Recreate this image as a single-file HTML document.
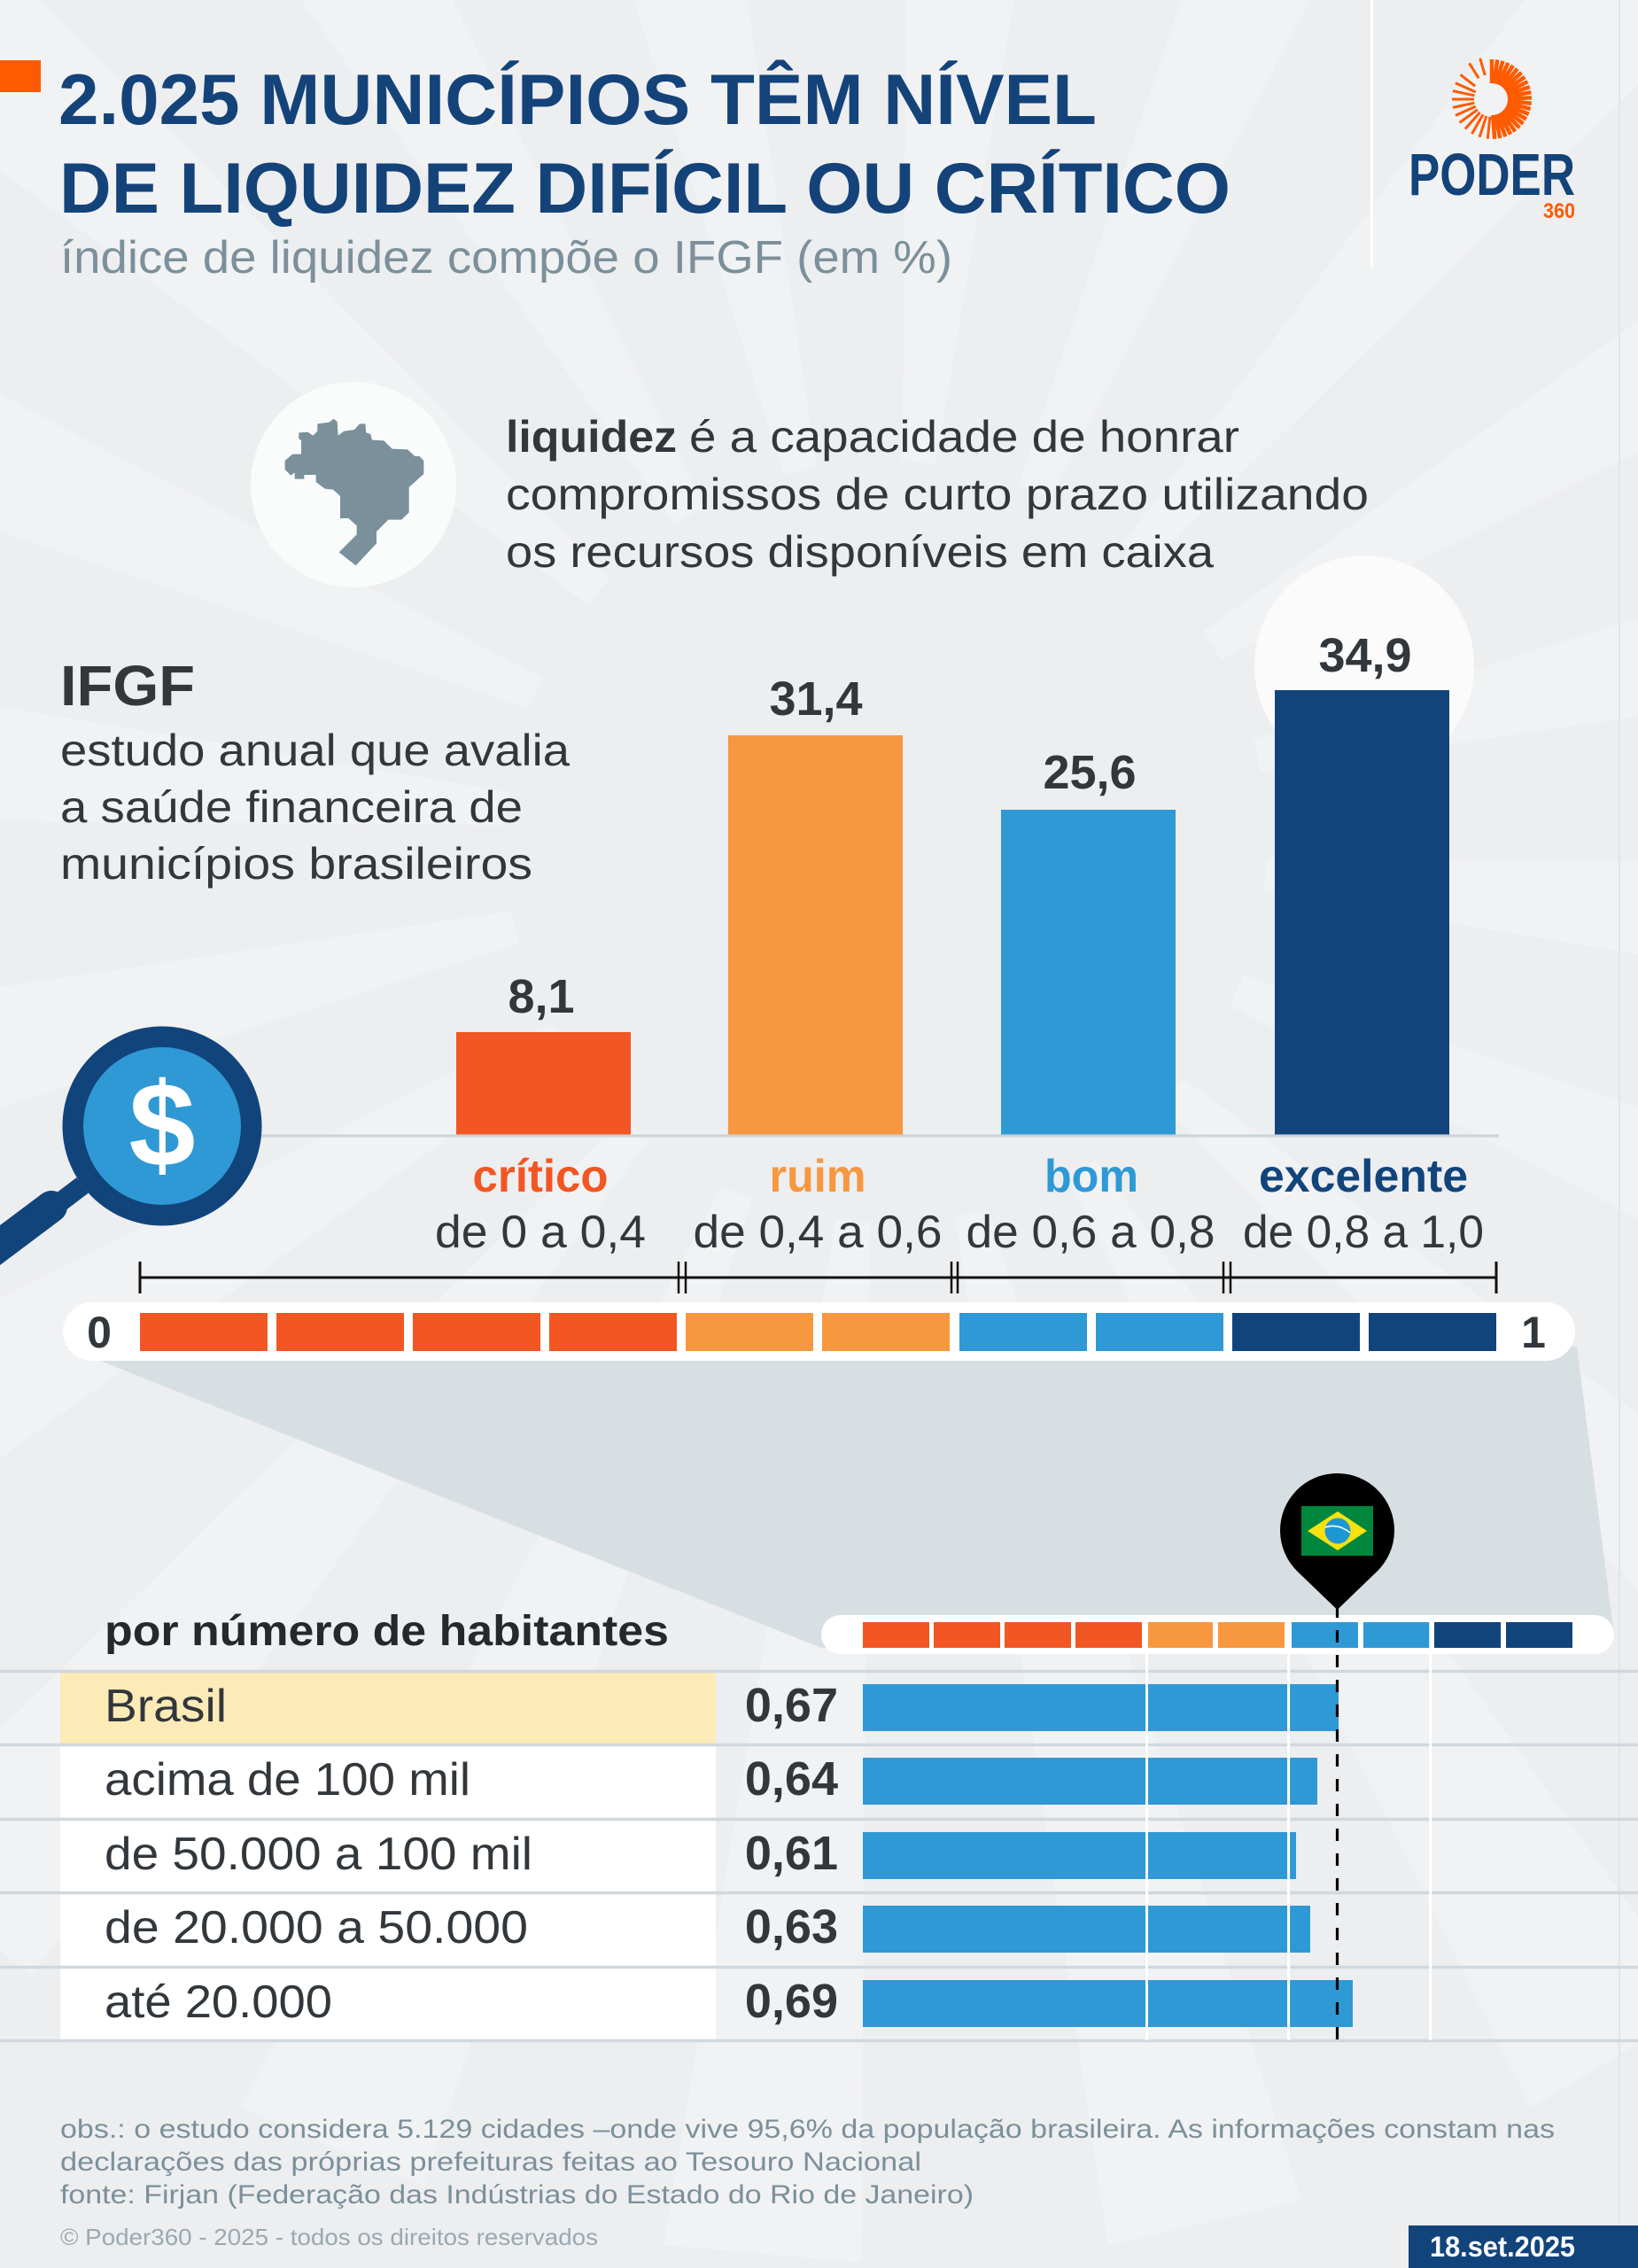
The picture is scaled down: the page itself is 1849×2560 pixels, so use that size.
<!DOCTYPE html>
<html lang="pt-BR">
<head>
<meta charset="utf-8">
<title>2.025 municípios têm nível de liquidez difícil ou crítico</title>
<style>
  html,body{margin:0;padding:0;background:#edeef0;}
  svg{display:block;}
  text{font-family:"Liberation Sans", Arial, sans-serif;}
</style>
</head>
<body>
<svg xmlns="http://www.w3.org/2000/svg" width="1849" height="2560" viewBox="0 0 1849 2560">
  <!-- background -->
  <rect x="0" y="0" width="1849" height="2560" fill="#edeef0"/>
  <!-- faint sunburst rays -->
  <g fill="#ffffff" opacity="0.24">
    <polygon points="1430,931 1430,969 2600,1062 2600,838" transform="rotate(5 1000 950)"/>
    <polygon points="1430,931 1430,969 2600,1062 2600,838" transform="rotate(23 1000 950)"/>
    <polygon points="1430,931 1430,969 2600,1062 2600,838" transform="rotate(41 1000 950)"/>
    <polygon points="1430,931 1430,969 2600,1062 2600,838" transform="rotate(59 1000 950)"/>
    <polygon points="1430,931 1430,969 2600,1062 2600,838" transform="rotate(77 1000 950)"/>
    <polygon points="1430,931 1430,969 2600,1062 2600,838" transform="rotate(95 1000 950)"/>
    <polygon points="1430,931 1430,969 2600,1062 2600,838" transform="rotate(113 1000 950)"/>
    <polygon points="1430,931 1430,969 2600,1062 2600,838" transform="rotate(131 1000 950)"/>
    <polygon points="1430,931 1430,969 2600,1062 2600,838" transform="rotate(149 1000 950)"/>
    <polygon points="1430,931 1430,969 2600,1062 2600,838" transform="rotate(167 1000 950)"/>
    <polygon points="1430,931 1430,969 2600,1062 2600,838" transform="rotate(185 1000 950)"/>
    <polygon points="1430,931 1430,969 2600,1062 2600,838" transform="rotate(203 1000 950)"/>
    <polygon points="1430,931 1430,969 2600,1062 2600,838" transform="rotate(221 1000 950)"/>
    <polygon points="1430,931 1430,969 2600,1062 2600,838" transform="rotate(239 1000 950)"/>
    <polygon points="1430,931 1430,969 2600,1062 2600,838" transform="rotate(257 1000 950)"/>
    <polygon points="1430,931 1430,969 2600,1062 2600,838" transform="rotate(275 1000 950)"/>
    <polygon points="1430,931 1430,969 2600,1062 2600,838" transform="rotate(293 1000 950)"/>
    <polygon points="1430,931 1430,969 2600,1062 2600,838" transform="rotate(311 1000 950)"/>
    <polygon points="1430,931 1430,969 2600,1062 2600,838" transform="rotate(329 1000 950)"/>
    <polygon points="1430,931 1430,969 2600,1062 2600,838" transform="rotate(347 1000 950)"/>
  </g>
  <!-- faint right line -->
  <rect x="1827" y="0" width="2" height="2560" fill="#e1e5e8"/>

  <!-- header -->
  <rect x="0" y="68" width="46" height="36" fill="#ff5a00"/>
  <text x="66" y="140" font-size="81" font-weight="bold" fill="#14437a" textLength="1172" lengthAdjust="spacingAndGlyphs">2.025 MUNICÍPIOS TÊM NÍVEL</text>
  <text x="67" y="240" font-size="81" font-weight="bold" fill="#14437a" textLength="1322" lengthAdjust="spacingAndGlyphs">DE LIQUIDEZ DIFÍCIL OU CRÍTICO</text>
  <text x="68" y="308" font-size="52" fill="#7b909a" textLength="1007" lengthAdjust="spacingAndGlyphs">índice de liquidez compõe o IFGF (em %)</text>

  <!-- separator -->
  <rect x="1547" y="0" width="3" height="302" fill="#ffffff"/>

  <!-- logo -->
  <g stroke="#ff5a00" stroke-linecap="butt">
    <g stroke-width="4.5">
      <line x1="1702" y1="112" x2="1729" y2="112" transform="rotate(-90 1684 112)"/>
      <line x1="1702" y1="112" x2="1729" y2="112" transform="rotate(-82 1684 112)"/>
      <line x1="1702" y1="112" x2="1729" y2="112" transform="rotate(-74 1684 112)"/>
      <line x1="1702" y1="112" x2="1729" y2="112" transform="rotate(-66 1684 112)"/>
      <line x1="1702" y1="112" x2="1729" y2="112" transform="rotate(-58 1684 112)"/>
      <line x1="1702" y1="112" x2="1729" y2="112" transform="rotate(-50 1684 112)"/>
      <line x1="1702" y1="112" x2="1729" y2="112" transform="rotate(-42 1684 112)"/>
      <line x1="1702" y1="112" x2="1729" y2="112" transform="rotate(-34 1684 112)"/>
      <line x1="1702" y1="112" x2="1729" y2="112" transform="rotate(-26 1684 112)"/>
      <line x1="1702" y1="112" x2="1729" y2="112" transform="rotate(-18 1684 112)"/>
      <line x1="1702" y1="112" x2="1729" y2="112" transform="rotate(-10 1684 112)"/>
      <line x1="1702" y1="112" x2="1729" y2="112" transform="rotate(-2 1684 112)"/>
      <line x1="1702" y1="112" x2="1729" y2="112" transform="rotate(6 1684 112)"/>
      <line x1="1702" y1="112" x2="1729" y2="112" transform="rotate(14 1684 112)"/>
      <line x1="1702" y1="112" x2="1729" y2="112" transform="rotate(22 1684 112)"/>
      <line x1="1702" y1="112" x2="1729" y2="112" transform="rotate(30 1684 112)"/>
      <line x1="1702" y1="112" x2="1729" y2="112" transform="rotate(38 1684 112)"/>
      <line x1="1702" y1="112" x2="1729" y2="112" transform="rotate(46 1684 112)"/>
      <line x1="1702" y1="112" x2="1729" y2="112" transform="rotate(54 1684 112)"/>
      <line x1="1702" y1="112" x2="1729" y2="112" transform="rotate(62 1684 112)"/>
      <line x1="1702" y1="112" x2="1729" y2="112" transform="rotate(70 1684 112)"/>
      <line x1="1702" y1="112" x2="1729" y2="112" transform="rotate(78 1684 112)"/>
      <line x1="1702" y1="112" x2="1729" y2="112" transform="rotate(86 1684 112)"/>
    </g>
    <g stroke-width="3">
      <line x1="1704" y1="112" x2="1729" y2="112" transform="rotate(96 1684 112)"/>
      <line x1="1704" y1="112" x2="1729" y2="112" transform="rotate(108 1684 112)"/>
      <line x1="1704" y1="112" x2="1729" y2="112" transform="rotate(120 1684 112)"/>
      <line x1="1704" y1="112" x2="1729" y2="112" transform="rotate(132 1684 112)"/>
      <line x1="1704" y1="112" x2="1729" y2="112" transform="rotate(144 1684 112)"/>
      <line x1="1704" y1="112" x2="1729" y2="112" transform="rotate(156 1684 112)"/>
      <line x1="1704" y1="112" x2="1729" y2="112" transform="rotate(168 1684 112)"/>
      <line x1="1704" y1="112" x2="1729" y2="112" transform="rotate(180 1684 112)"/>
      <line x1="1704" y1="112" x2="1729" y2="112" transform="rotate(192 1684 112)"/>
      <line x1="1704" y1="112" x2="1729" y2="112" transform="rotate(204 1684 112)"/>
      <line x1="1708" y1="112" x2="1729" y2="112" transform="rotate(218 1684 112)"/>
      <line x1="1712" y1="112" x2="1732" y2="112" transform="rotate(238 1684 112)"/>
      <line x1="1712" y1="112" x2="1732" y2="112" transform="rotate(254 1684 112)"/>
    </g>
  </g>
  <text x="1590" y="220" font-size="67" font-weight="bold" fill="#14437a" textLength="188" lengthAdjust="spacingAndGlyphs">PODER</text>
  <text x="1742" y="246" font-size="24" font-weight="bold" fill="#ff5a00" textLength="36" lengthAdjust="spacingAndGlyphs">360</text>

  <!-- info circle with Brazil map -->
  <circle cx="399" cy="547" r="116" fill="#fafbfb"/>
  <polygon fill="#7a909b" transform="translate(260 420) scale(0.33333)" points="232,205 262,203 280,215 295,200 295,175 335,170 350,158 362,168 365,215 385,200 420,195 438,175 457,175 460,205 475,210 480,230 520,232 548,260 600,262 625,285 640,285 655,300 655,345 605,390 605,475 580,500 535,500 495,540 495,580 425,655 368,610 428,550 428,520 400,495 372,495 372,420 348,398 320,395 290,372 290,348 250,348 250,362 218,362 218,340 205,350 185,330 185,300 210,278 240,278 240,232 232,225"/>

  <!-- liquidez definition -->
  <text x="571" y="510" font-size="50" font-weight="bold" fill="#32373c" textLength="193" lengthAdjust="spacingAndGlyphs">liquidez</text>
  <text x="778" y="510" font-size="50" fill="#32373c" textLength="621" lengthAdjust="spacingAndGlyphs">é a capacidade de honrar</text>
  <text x="571" y="575" font-size="50" fill="#32373c" textLength="974" lengthAdjust="spacingAndGlyphs">compromissos de curto prazo utilizando</text>
  <text x="571" y="640" font-size="50" fill="#32373c" textLength="799" lengthAdjust="spacingAndGlyphs">os recursos disponíveis em caixa</text>

  <!-- IFGF block -->
  <text x="68" y="796" font-size="64" font-weight="bold" fill="#32373c" textLength="152" lengthAdjust="spacingAndGlyphs">IFGF</text>
  <text x="68" y="864" font-size="50" fill="#32373c" textLength="575" lengthAdjust="spacingAndGlyphs">estudo anual que avalia</text>
  <text x="68" y="928" font-size="50" fill="#32373c" textLength="522" lengthAdjust="spacingAndGlyphs">a saúde financeira de</text>
  <text x="68" y="992" font-size="50" fill="#32373c" textLength="533" lengthAdjust="spacingAndGlyphs">municípios brasileiros</text>

  <!-- white circle behind 34,9 -->
  <circle cx="1540" cy="751" r="124" fill="#fbfbfc"/>

  <!-- bars -->
  <rect x="515" y="1165" width="197" height="116" fill="#f25623"/>
  <rect x="822" y="830" width="197" height="451" fill="#f7973f"/>
  <rect x="1130" y="914" width="197" height="367" fill="#2f99d5"/>
  <rect x="1439" y="779" width="197" height="502" fill="#12447c"/>
  <line x1="295" y1="1282" x2="1692" y2="1282" stroke="#c9d3d9" stroke-width="3"/>

  <!-- value labels -->
  <g font-size="54" font-weight="bold" fill="#32373c" text-anchor="middle">
    <text x="611" y="1143">8,1</text>
    <text x="921" y="807">31,4</text>
    <text x="1230" y="890">25,6</text>
    <text x="1541" y="758">34,9</text>
  </g>

  <!-- category labels -->
  <g font-size="52" font-weight="bold" text-anchor="middle">
    <text x="610" y="1345" fill="#f25623" textLength="153" lengthAdjust="spacingAndGlyphs">crítico</text>
    <text x="923" y="1345" fill="#f7973f" textLength="109" lengthAdjust="spacingAndGlyphs">ruim</text>
    <text x="1232" y="1345" fill="#2f99d5" textLength="106" lengthAdjust="spacingAndGlyphs">bom</text>
    <text x="1539" y="1345" fill="#12447c" textLength="236" lengthAdjust="spacingAndGlyphs">excelente</text>
  </g>
  <g font-size="52" fill="#32373c" text-anchor="middle">
    <text x="610" y="1408" textLength="238" lengthAdjust="spacingAndGlyphs">de 0 a 0,4</text>
    <text x="923" y="1408" textLength="281" lengthAdjust="spacingAndGlyphs">de 0,4 a 0,6</text>
    <text x="1231" y="1408" textLength="281" lengthAdjust="spacingAndGlyphs">de 0,6 a 0,8</text>
    <text x="1539" y="1408" textLength="272" lengthAdjust="spacingAndGlyphs">de 0,8 a 1,0</text>
  </g>

  <!-- magnifier -->
  <line x1="93" y1="1338" x2="60" y2="1363" stroke="#12447c" stroke-width="22"/>
  <line x1="58" y1="1362" x2="-30" y2="1428" stroke="#12447c" stroke-width="36" stroke-linecap="round"/>
  <circle cx="183" cy="1271" r="112.5" fill="#12447c"/>
  <circle cx="183" cy="1271" r="89" fill="#2f99d5"/>
  <text x="183" y="1316" font-size="135" font-weight="bold" fill="#ffffff" text-anchor="middle">$</text>

  <!-- bracket -->
  <g stroke="#111111">
    <line x1="158" y1="1442" x2="1689" y2="1442" stroke-width="3"/>
    <line x1="158" y1="1424" x2="158" y2="1460" stroke-width="3"/>
    <line x1="1689" y1="1424" x2="1689" y2="1460" stroke-width="3"/>
    <line x1="766" y1="1424" x2="766" y2="1460" stroke-width="2.5"/>
    <line x1="774" y1="1424" x2="774" y2="1460" stroke-width="2.5"/>
    <line x1="1074" y1="1424" x2="1074" y2="1460" stroke-width="2.5"/>
    <line x1="1081" y1="1424" x2="1081" y2="1460" stroke-width="2.5"/>
    <line x1="1381" y1="1424" x2="1381" y2="1460" stroke-width="2.5"/>
    <line x1="1389" y1="1424" x2="1389" y2="1460" stroke-width="2.5"/>
  </g>

  <!-- zoom shadow polygon -->
  <polygon points="73,1520 1780,1520 1822,1845 927,1860" fill="#d8dfe3"/>

  <!-- big scale pill -->
  <rect x="71" y="1470" width="1707" height="66" rx="33" fill="#ffffff"/>
  <rect x="158" y="1482" width="144" height="43" fill="#f25623"/>
  <rect x="312" y="1482" width="144" height="43" fill="#f25623"/>
  <rect x="466" y="1482" width="144" height="43" fill="#f25623"/>
  <rect x="620" y="1482" width="144" height="43" fill="#f25623"/>
  <rect x="774" y="1482" width="144" height="43" fill="#f7973f"/>
  <rect x="928" y="1482" width="144" height="43" fill="#f7973f"/>
  <rect x="1083" y="1482" width="144" height="43" fill="#2f99d5"/>
  <rect x="1237" y="1482" width="144" height="43" fill="#2f99d5"/>
  <rect x="1391" y="1482" width="144" height="43" fill="#12447c"/>
  <rect x="1545" y="1482" width="144" height="43" fill="#12447c"/>
  <text x="112" y="1521" font-size="50" font-weight="bold" fill="#32373c" text-anchor="middle">0</text>
  <text x="1731" y="1521" font-size="50" font-weight="bold" fill="#32373c" text-anchor="middle">1</text>

  <!-- small scale pill -->
  <rect x="927" y="1823" width="895" height="44" rx="22" fill="#ffffff"/>
  <rect x="974" y="1831" width="75" height="29" fill="#f25623"/>
  <rect x="1054" y="1831" width="75" height="29" fill="#f25623"/>
  <rect x="1134" y="1831" width="75" height="29" fill="#f25623"/>
  <rect x="1214" y="1831" width="75" height="29" fill="#f25623"/>
  <rect x="1294" y="1831" width="75" height="29" fill="#f7973f"/>
  <rect x="1375" y="1831" width="75" height="29" fill="#f7973f"/>
  <rect x="1458" y="1831" width="75" height="29" fill="#2f99d5"/>
  <rect x="1539" y="1831" width="75" height="29" fill="#2f99d5"/>
  <rect x="1619" y="1831" width="75" height="29" fill="#12447c"/>
  <rect x="1700" y="1831" width="75" height="29" fill="#12447c"/>

  <!-- table header -->
  <text x="118" y="1857" font-size="48" font-weight="bold" fill="#24292e" textLength="637" lengthAdjust="spacingAndGlyphs">por número de habitantes</text>

  <!-- table rows -->
  <rect x="68" y="1888" width="740" height="80" fill="#fdebb7"/>
  <rect x="68" y="1971" width="740" height="81" fill="#ffffff"/>
  <rect x="68" y="2055" width="740" height="80" fill="#ffffff"/>
  <rect x="68" y="2138" width="740" height="81" fill="#ffffff"/>
  <rect x="68" y="2222" width="740" height="80" fill="#ffffff"/>
  <g stroke="#d0d8dd" stroke-width="3.5">
    <line x1="0" y1="1886.5" x2="1849" y2="1886.5"/>
    <line x1="0" y1="1969.5" x2="1849" y2="1969.5"/>
    <line x1="0" y1="2053.5" x2="1849" y2="2053.5"/>
    <line x1="0" y1="2136.5" x2="1849" y2="2136.5"/>
    <line x1="0" y1="2220.5" x2="1849" y2="2220.5"/>
    <line x1="0" y1="2303.5" x2="1849" y2="2303.5"/>
  </g>

  <!-- table bars -->
  <rect x="974" y="1901" width="537" height="53" fill="#2f99d5"/>
  <rect x="974" y="1984" width="513" height="53" fill="#2f99d5"/>
  <rect x="974" y="2068" width="489" height="53" fill="#2f99d5"/>
  <rect x="974" y="2151" width="505" height="53" fill="#2f99d5"/>
  <rect x="974" y="2235" width="553" height="53" fill="#2f99d5"/>

  <!-- gridlines -->
  <g stroke="#ffffff" stroke-width="3">
    <line x1="1294.5" y1="1823" x2="1294.5" y2="2303"/>
    <line x1="1454.6" y1="1823" x2="1454.6" y2="2303"/>
    <line x1="1614.8" y1="1823" x2="1614.8" y2="2303"/>
  </g>

  <!-- dashed Brasil line -->
  <line x1="1509.5" y1="1812" x2="1509.5" y2="2303" stroke="#000000" stroke-width="3.2" stroke-dasharray="14 14"/>

  <!-- pin -->
  <path d="M1509.5 1817 L1464.8 1774 A64.5 64.5 0 1 1 1554.2 1774 Z" fill="#000000"/>
  <rect x="1469" y="1700" width="81" height="56" fill="#00873d"/>
  <polygon points="1476,1728 1510,1706 1543,1728 1510,1750" fill="#f8e10f"/>
  <circle cx="1510" cy="1728" r="14.5" fill="#1c97d4"/>
  <path d="M1496 1724 Q1510 1719 1524 1730" stroke="#ffffff" stroke-width="1.5" fill="none"/>

  <!-- row labels -->
  <g font-size="52" fill="#32373c">
    <text x="118" y="1943" textLength="138" lengthAdjust="spacingAndGlyphs">Brasil</text>
    <text x="118" y="2026" textLength="413" lengthAdjust="spacingAndGlyphs">acima de 100 mil</text>
    <text x="118" y="2110" textLength="483" lengthAdjust="spacingAndGlyphs">de 50.000 a 100 mil</text>
    <text x="118" y="2193" textLength="478" lengthAdjust="spacingAndGlyphs">de 20.000 a 50.000</text>
    <text x="118" y="2277" textLength="257" lengthAdjust="spacingAndGlyphs">até 20.000</text>
  </g>
  <g font-size="54" font-weight="bold" fill="#32373c" text-anchor="end">
    <text x="946" y="1943">0,67</text>
    <text x="946" y="2026">0,64</text>
    <text x="946" y="2110">0,61</text>
    <text x="946" y="2193">0,63</text>
    <text x="946" y="2277">0,69</text>
  </g>

  <!-- footer -->
  <g font-size="30" fill="#7b909a">
    <text x="68" y="2413" textLength="1687" lengthAdjust="spacingAndGlyphs">obs.: o estudo considera 5.129 cidades –onde vive 95,6% da população brasileira. As informações constam nas</text>
    <text x="68" y="2450" textLength="972" lengthAdjust="spacingAndGlyphs">declarações das próprias prefeituras feitas ao Tesouro Nacional</text>
    <text x="68" y="2487" textLength="1031" lengthAdjust="spacingAndGlyphs">fonte: Firjan (Federação das Indústrias do Estado do Rio de Janeiro)</text>
  </g>
  <text x="68" y="2534" font-size="26" fill="#9aa9b1" textLength="607" lengthAdjust="spacingAndGlyphs">© Poder360 - 2025 - todos os direitos reservados</text>
  <rect x="1590" y="2512" width="259" height="48" fill="#12447c"/>
  <text x="1614" y="2547" font-size="32" font-weight="bold" fill="#ffffff" textLength="164" lengthAdjust="spacingAndGlyphs">18.set.2025</text>
</svg>
</body>
</html>
